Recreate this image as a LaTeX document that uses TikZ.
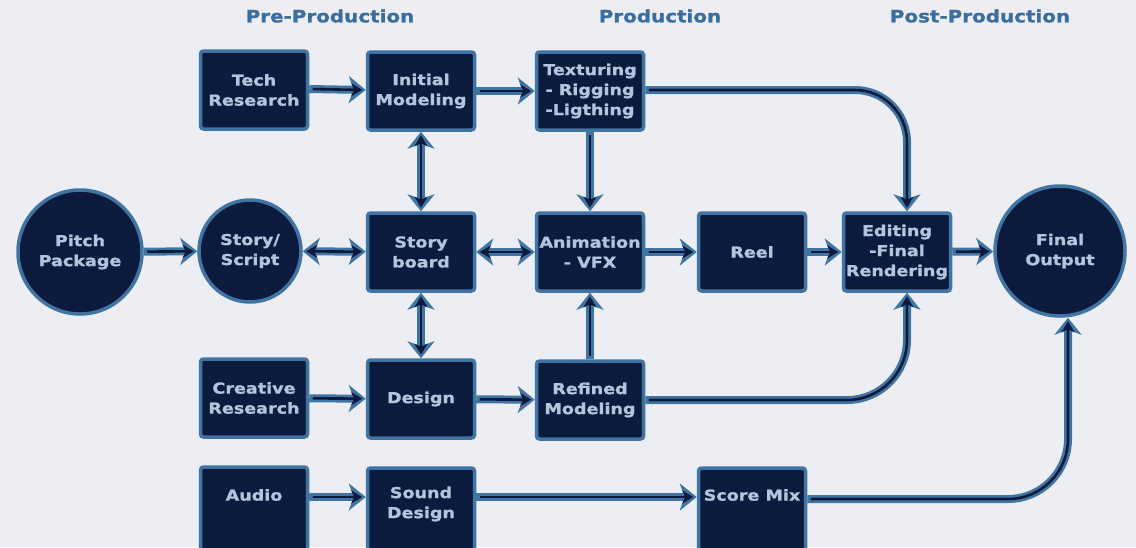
\documentclass[tikz,border=0pt]{standalone}
\usepackage{fontspec}
\newfontfamily\diafont{DejaVu Sans}[FakeStretch=1.17, BoldFeatures={FakeBold=1.2}]
\usetikzlibrary{arrows.meta}
\definecolor{bgc}{HTML}{EDEEF3}
\definecolor{navyc}{HTML}{0C1B3D}
\definecolor{edgec}{HTML}{3F74A3}
\definecolor{txtc}{HTML}{B3C4DC}
\definecolor{titlec}{HTML}{3A6E9F}
\tikzset{
 boxfont/.style={font=\diafont\bfseries\fontsize{15}{20}\selectfont},
 box/.style={draw=edgec, line width=3.5pt, fill=navyc, rounded corners=3pt, minimum width=107pt, minimum height=78pt, text=txtc, boxfont, align=center, inner sep=0pt},
 disc/.style={circle, draw=edgec, line width=3.5pt, fill=navyc, text=txtc, boxfont, align=center, inner sep=0pt},
 lbl/.style={text=txtc, boxfont, align=center, inner sep=0pt},
 ttl/.style={text=titlec, font=\diafont\bfseries\fontsize{17}{20}\selectfont, inner sep=0pt},
 outerarr/.style={draw=edgec, line width=8pt, >={Stealth[length=17pt,width=27pt,inset=5pt]}},
 innerarr/.style={draw=navyc, line width=2.6pt, >={Stealth[length=11pt,width=13pt,inset=3pt]}, shorten >=3.5pt, shorten <=3.5pt},
}
\newcommand\flow[2]{\draw[outerarr,#1]#2;\draw[innerarr,#1]#2;}
\begin{document}
\begin{tikzpicture}[x=1pt,y=-1pt]
\useasboundingbox (0,0) rectangle (1136,547);
\fill[bgc] (0,0) rectangle (1136,547);
\clip (0,0) rectangle (1136,547);

\node[ttl] (t1) at (330,16) {Pre-Production};
\node[ttl] (t2) at (660,16) {Production};
\node[ttl] (t3) at (980,16) {Post-Production};

\node[box] (tech) at (254,90) {Tech\\Research};
\node[box] (init) at (421,91) {Initial\\Modeling};
\node[box] (tex) at (590,91) {Texturing\\- Rigging\\-Ligthing};
\node[disc, minimum size=124pt] (pitch) at (80,252) {Pitch\\Package};
\node[disc, minimum size=102pt] (story) at (250,251) {Story/\\Script};
\node[box] (sb) at (421,252) {Story\\board};
\node[box] (anim) at (590,252) {Animation\\- VFX};
\node[box] (reel) at (752,252) {Reel};
\node[box] (edit) at (897,252) {Editing\\-Final\\Rendering};
\node[disc, minimum size=130pt] (final) at (1060,251) {Final\\Output};
\node[box] (crea) at (254,398) {Creative\\Research};
\node[box] (des) at (421,399) {Design};
\node[box] (ref) at (590,400) {Refined\\Modeling};
\node[box, minimum height=98pt] (audio) at (254,516) {};
\node[box, minimum height=98pt] (sound) at (421,517) {};
\node[box, minimum height=98pt] (score) at (752,517) {};
\node[lbl] (audiot) at (254,495) {Audio};
\node[lbl] (soundt) at (421,504) {Sound\\Design};
\node[lbl] (scoret) at (752,495) {Score Mix};

\flow{->}{([yshift=1pt]tech.east) -- ([yshift=1pt]init.west)}
\flow{->}{(init) -- (tex)}
\flow{->,rounded corners=52pt}{([yshift=1pt]tex.east) -| ([xshift=10pt]edit.north)}
\flow{<->}{(init) -- (sb)}
\flow{->}{(pitch) -- (story)}
\flow{<->}{(story) -- (sb)}
\flow{<->}{(sb) -- (anim)}
\flow{->}{(tex) -- (anim)}
\flow{->}{(anim) -- (reel)}
\flow{->}{(reel) -- (edit)}
\flow{->}{(edit) -- (final)}
\flow{<->}{(sb) -- (des)}
\flow{->}{(crea) -- (des)}
\flow{->}{(des) -- (ref)}
\flow{->}{(ref) -- (anim)}
\flow{->,rounded corners=60pt}{(ref.east) -| ([xshift=10pt]edit.south)}
\flow{->}{([yshift=19pt]audio.east) -- ([yshift=20pt]sound.west)}
\flow{->}{([yshift=20pt]sound.east) -- ([yshift=20pt]score.west)}
\flow{->,rounded corners=60pt}{([yshift=18pt]score.east) -| ([xshift=8pt]final.south)}
\end{tikzpicture}
\end{document}
